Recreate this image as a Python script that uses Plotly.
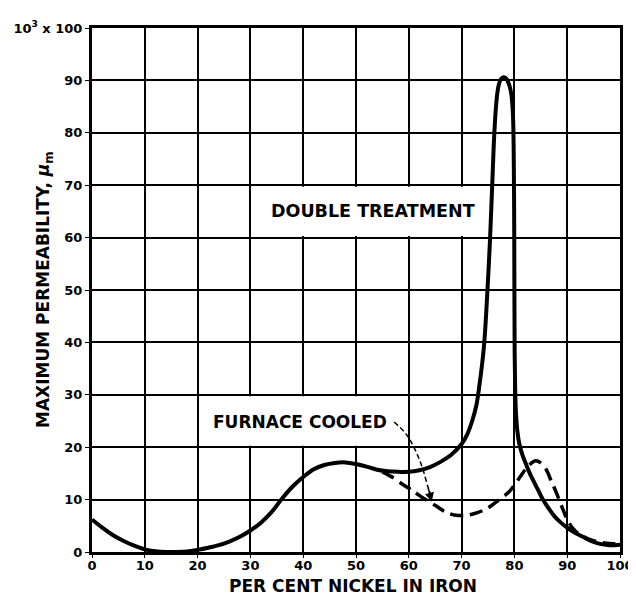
import plotly.graph_objects as go

# Double treatment curve (per cent nickel, max permeability x 10^3)
double_x = [0, 2, 4, 6, 8, 10, 12, 14, 16, 18, 20, 22, 24, 26, 28, 30, 32, 34, 36, 38,
            40, 42, 44, 46, 48, 50, 52, 54, 56, 58, 60, 62, 64, 66, 68, 70, 71, 72, 72.8,
            73.4, 73.9, 74.3, 74.9, 75.4, 75.8, 76.2, 76.6, 77.0, 77.5, 78.0, 78.5, 79.0,
            79.4, 79.7, 79.85, 79.95, 80.0, 80.05, 80.15, 80.3, 80.55, 80.9, 81.5, 82.3,
            83.0, 83.8, 84.6, 85.4, 86.5, 87.6, 88.7, 89.8, 91.4, 93, 94.5, 96, 98, 100]
double_y = [6.2, 4.6, 3.2, 2.1, 1.2, 0.5, 0.15, 0, 0, 0.1, 0.4, 0.8, 1.3, 2.0, 2.9, 4.1,
            5.6, 7.6, 10.2, 12.5, 14.3, 15.8, 16.6, 17.0, 17.1, 16.8, 16.3, 15.7, 15.4,
            15.3, 15.3, 15.6, 16.2, 17.2, 18.5, 20.6, 22.3, 25, 28, 32, 36, 40, 50, 60,
            70, 80, 86, 89, 90.3, 90.6, 90.3, 89.2, 87.5, 84, 78, 65, 50, 38, 31, 26.5,
            23.2, 20.8, 18.6, 16.5, 14.8, 13.2, 11.6, 10, 8.3, 6.8, 5.7, 4.8, 3.7, 2.9,
            2.1, 1.6, 1.3, 1.4]

# Furnace cooled curve
furnace_x = [55, 57, 59, 61, 63, 65, 67, 69, 71, 73, 75, 77, 79, 81, 82.5, 84, 85, 86,
             87, 88, 89, 90, 91, 92, 94, 96, 98, 100]
furnace_y = [15.3, 14.2, 12.8, 11.5, 10.1, 8.9, 7.6, 7.0, 7.0, 7.5, 8.4, 9.9, 11.5, 14.2,
             16.3, 17.4, 17.0, 15.8, 13.5, 11.2, 8.6, 6.2, 4.6, 3.6, 2.5, 1.9, 1.6, 1.6]

# Leader from the "FURNACE COOLED" label to the dashed curve
leader_x = [57.2, 59.5, 61.2, 62.6, 63.6, 64.2]
leader_y = [24.8, 22.5, 19.5, 16.0, 12.5, 10.8]

x_ticks = list(range(0, 101, 10))
y_ticks = list(range(0, 101, 10))
y_ticktext = [str(v) for v in y_ticks[:-1]] + ["10<sup>3</sup> x 100"]

FONT = "DejaVu Sans"
PLOT_W, PLOT_H = 528, 524

fig = go.Figure()

fig.add_trace(go.Scatter(
    x=double_x, y=double_y, mode="lines",
    line=dict(color="black", width=4, shape="spline", smoothing=1),
    showlegend=False, hoverinfo="skip",
))
fig.add_trace(go.Scatter(
    x=furnace_x, y=furnace_y, mode="lines",
    line=dict(color="black", width=3.5, dash="13px,7px", shape="spline", smoothing=0.8),
    showlegend=False, hoverinfo="skip",
))
fig.add_trace(go.Scatter(
    x=leader_x, y=leader_y, mode="lines",
    line=dict(color="black", width=1.5, dash="5px,3px", shape="spline"),
    showlegend=False, hoverinfo="skip",
))

# white label boxes hide the grid behind the lettering
fig.add_shape(type="rect", x0=30.3, x1=75.6, y0=60.3, y1=69.7, layer="between",
              fillcolor="white", line_width=0)
fig.add_shape(type="rect", x0=20.3, x1=59.7, y0=20.3, y1=29.7, layer="between",
              fillcolor="white", line_width=0)

label_font = dict(family=FONT, size=17, color="black", weight="bold")
fig.add_annotation(x=53.2, y=65.1, text="DOUBLE TREATMENT", showarrow=False,
                   font=dict(family=FONT, size=17.5, color="black", weight="bold"))
fig.add_annotation(x=39.4, y=24.8, text="FURNACE COOLED", showarrow=False, font=label_font)
fig.add_annotation(x=leader_x[-1] + 0.15, y=leader_y[-1] - 1.2,
                   ax=leader_x[-2], ay=leader_y[-2], axref="x", ayref="y",
                   xref="x", yref="y", text="", showarrow=True,
                   arrowhead=2, arrowsize=1.2, arrowwidth=1.5, arrowcolor="black")

tick_font = dict(family=FONT, size=13, color="black", weight="bold")
title_font = dict(family=FONT, size=17, color="black", weight="bold")

# axis titles as annotations so they sit where the original puts them
fig.add_annotation(xref="paper", yref="paper", x=-48 / PLOT_W, y=0.5,
                   text="MAXIMUM PERMEABILITY, <i>μ</i><sub>m</sub>", textangle=-90,
                   showarrow=False, font=title_font, xanchor="center", yanchor="middle")
fig.add_annotation(xref="paper", yref="paper", x=0.494, y=-34 / PLOT_H,
                   text="PER CENT NICKEL IN IRON",
                   showarrow=False, font=title_font, xanchor="center", yanchor="middle")

# page body adds an 8px offset, so the figure is 8px smaller than the window
fig.update_layout(
    width=628, height=587,
    margin=dict(l=84, r=16, t=20, b=43),
    paper_bgcolor="white", plot_bgcolor="white",
    font=dict(family=FONT, size=14, color="black"),
    xaxis=dict(
        range=[0, 100], tickvals=x_ticks, ticktext=[str(v) for v in x_ticks],
        showgrid=True, gridcolor="black", gridwidth=1.6, zeroline=False,
        showline=True, linecolor="black", linewidth=3, mirror=True,
        ticks="outside", ticklen=3, tickcolor="black", automargin=False,
        ticklabelstandoff=-4,
        tickfont=tick_font,
    ),
    yaxis=dict(
        range=[0, 100], tickvals=y_ticks, ticktext=y_ticktext,
        showgrid=True, gridcolor="black", gridwidth=1.6, zeroline=False,
        showline=True, linecolor="black", linewidth=3, mirror=True,
        ticks="outside", ticklen=4, tickcolor="black", automargin=False,
        tickfont=tick_font,
    ),
)

fig.write_html("out.html")
